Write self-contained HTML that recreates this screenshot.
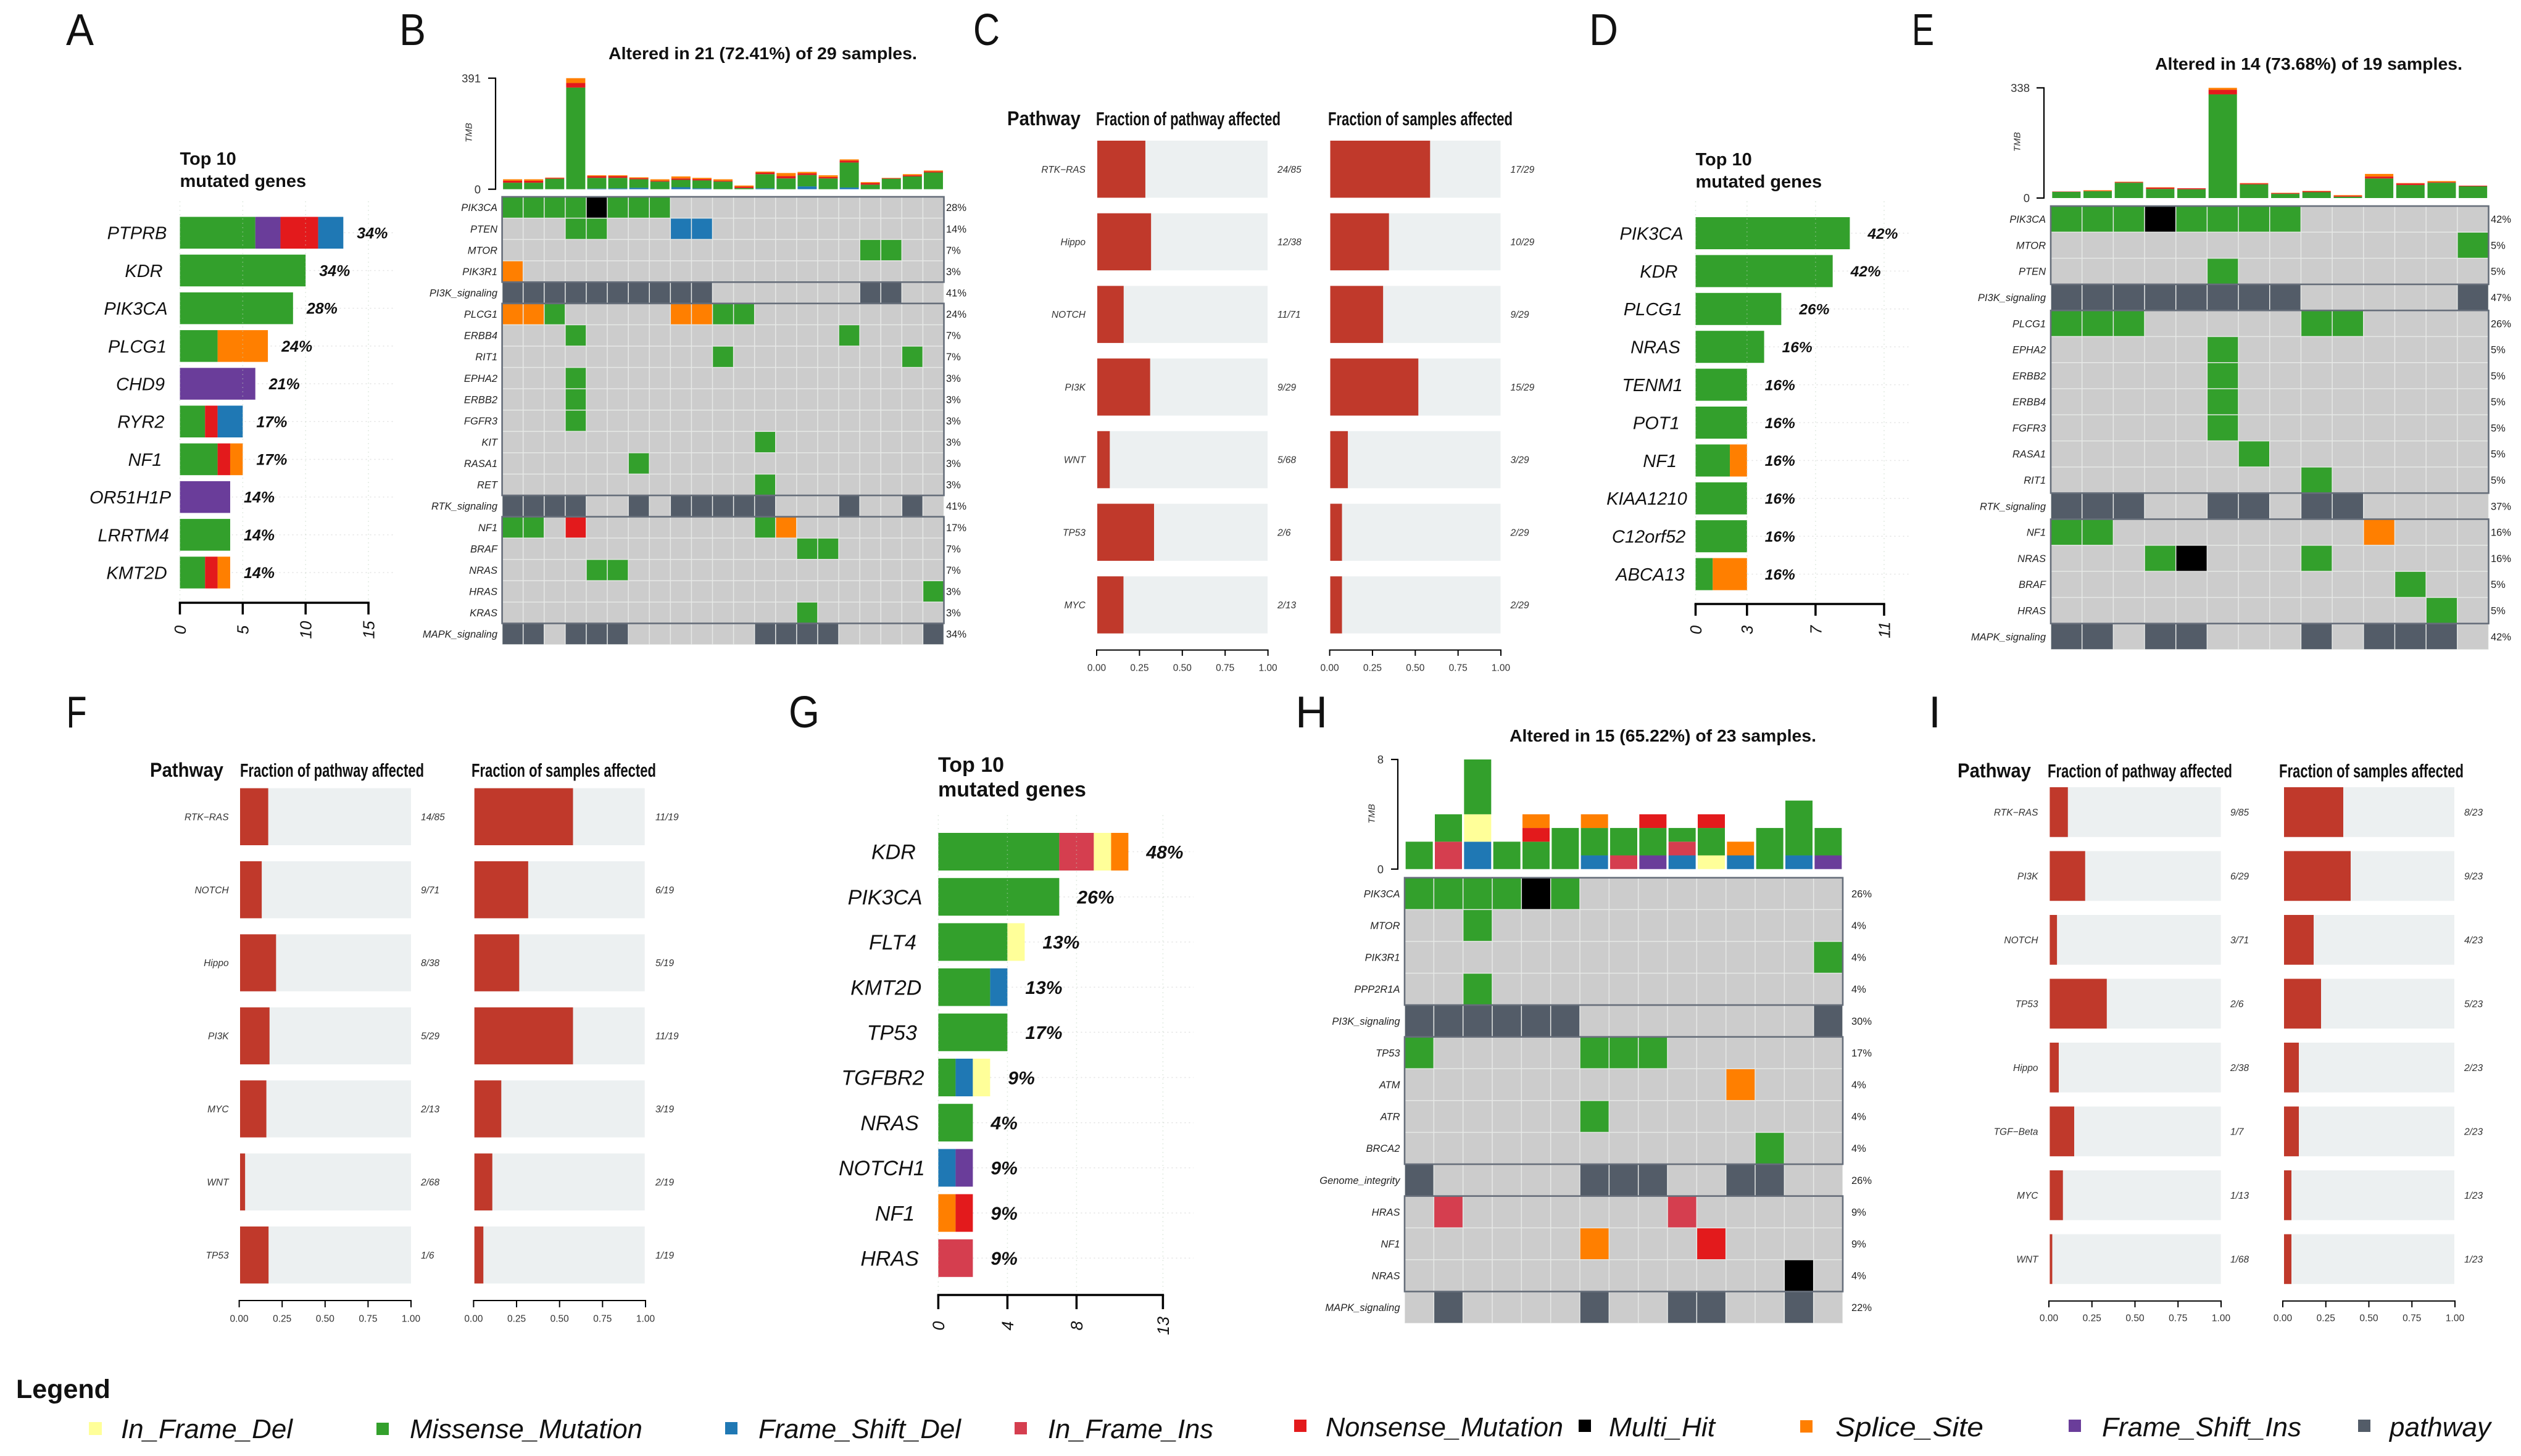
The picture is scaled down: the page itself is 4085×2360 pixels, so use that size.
<!DOCTYPE html>
<html lang="en">
<head>
<meta charset="utf-8">
<title>Mutation landscape figure</title>
<style>
html,body{margin:0;padding:0;background:#fff;}
body{width:4085px;height:2360px;overflow:hidden;}
svg{display:block;}
text{font-family:"Liberation Sans",sans-serif;fill:#111;}
.letter{font-size:72px;}
.toptitle{font-size:29px;font-weight:bold;}
.alt{font-size:28px;font-weight:bold;}
.phead{font-size:32px;font-weight:bold;}
.fhead{font-size:31px;font-weight:bold;}
.leg{font-size:44px;font-style:italic;}
</style>
</head>
<body>
<svg id="figure" width="4085" height="2360" viewBox="0 0 4085 2360" xmlns="http://www.w3.org/2000/svg">
  <rect x="0" y="0" width="4085" height="2360" fill="#ffffff"/>

  <text class="letter" x="107" y="73" textLength="45" lengthAdjust="spacingAndGlyphs">A</text>
  <text class="letter" x="647" y="73" textLength="43" lengthAdjust="spacingAndGlyphs">B</text>
  <text class="letter" x="1577" y="73" textLength="43" lengthAdjust="spacingAndGlyphs">C</text>
  <text class="letter" x="2575" y="73" textLength="47" lengthAdjust="spacingAndGlyphs">D</text>
  <text class="letter" x="3098" y="73" textLength="36" lengthAdjust="spacingAndGlyphs">E</text>
  <text class="letter" x="107.5" y="1179" textLength="33" lengthAdjust="spacingAndGlyphs">F</text>
  <text class="letter" x="1278" y="1179" textLength="50" lengthAdjust="spacingAndGlyphs">G</text>
  <text class="letter" x="2099" y="1179">H</text>
  <text class="letter" x="3125" y="1179">I</text>

  <text class="toptitle" x="291.5" y="267">Top 10</text>
  <text class="toptitle" x="291.5" y="303">mutated genes</text>
  <text class="toptitle" x="2747.5" y="268">Top 10</text>
  <text class="toptitle" x="2747.5" y="304">mutated genes</text>
  <text class="toptitle" style="font-size:34px" x="1520" y="1251">Top 10</text>
  <text class="toptitle" style="font-size:34px" x="1520" y="1291">mutated genes</text>

  <text class="alt" x="986" y="96" textLength="500" lengthAdjust="spacingAndGlyphs">Altered in 21 (72.41%) of 29 samples.</text>
  <text class="alt" x="3492" y="113" textLength="498" lengthAdjust="spacingAndGlyphs">Altered in 14 (73.68%) of 19 samples.</text>
  <text class="alt" x="2446" y="1202" textLength="497" lengthAdjust="spacingAndGlyphs">Altered in 15 (65.22%) of 23 samples.</text>

  <text class="phead" x="1632" y="203" textLength="119" lengthAdjust="spacingAndGlyphs">Pathway</text>
  <text class="fhead" x="1776" y="203" textLength="299" lengthAdjust="spacingAndGlyphs">Fraction of pathway affected</text>
  <text class="fhead" x="2152" y="203" textLength="299" lengthAdjust="spacingAndGlyphs">Fraction of samples affected</text>

  <text class="phead" x="243" y="1259" textLength="119" lengthAdjust="spacingAndGlyphs">Pathway</text>
  <text class="fhead" x="389" y="1259" textLength="298" lengthAdjust="spacingAndGlyphs">Fraction of pathway affected</text>
  <text class="fhead" x="764" y="1259" textLength="299" lengthAdjust="spacingAndGlyphs">Fraction of samples affected</text>

  <text class="phead" x="3172" y="1260" textLength="119" lengthAdjust="spacingAndGlyphs">Pathway</text>
  <text class="fhead" x="3318" y="1260" textLength="299" lengthAdjust="spacingAndGlyphs">Fraction of pathway affected</text>
  <text class="fhead" x="3693" y="1260" textLength="299" lengthAdjust="spacingAndGlyphs">Fraction of samples affected</text>

  <g>
    <text x="26" y="2266" style="font-size:43px;font-weight:bold">Legend</text>
    <rect x="144" y="2305" width="21" height="21" fill="#ffff99"/>
    <text class="leg" x="196" y="2331" textLength="278" lengthAdjust="spacingAndGlyphs">In_Frame_Del</text>
    <rect x="610" y="2306" width="20" height="20" fill="#33a02c"/>
    <text class="leg" x="664" y="2331" textLength="377" lengthAdjust="spacingAndGlyphs">Missense_Mutation</text>
    <rect x="1175" y="2305" width="20" height="20" fill="#1f78b4"/>
    <text class="leg" x="1229" y="2331" textLength="328" lengthAdjust="spacingAndGlyphs">Frame_Shift_Del</text>
    <rect x="1644" y="2305" width="20" height="20" fill="#d53e4f"/>
    <text class="leg" x="1698" y="2331" textLength="268" lengthAdjust="spacingAndGlyphs">In_Frame_Ins</text>
    <rect x="2097" y="2301" width="20" height="20" fill="#e31a1c"/>
    <text class="leg" x="2148" y="2328" textLength="385" lengthAdjust="spacingAndGlyphs">Nonsense_Mutation</text>
    <rect x="2558" y="2301" width="20" height="20" fill="#000000"/>
    <text class="leg" x="2607" y="2328" textLength="172" lengthAdjust="spacingAndGlyphs">Multi_Hit</text>
    <rect x="2917" y="2302" width="20" height="20" fill="#ff7f00"/>
    <text class="leg" x="2974" y="2328" textLength="240" lengthAdjust="spacingAndGlyphs">Splice_Site</text>
    <rect x="3352" y="2301" width="20" height="20" fill="#6a3d9a"/>
    <text class="leg" x="3406" y="2328" textLength="323" lengthAdjust="spacingAndGlyphs">Frame_Shift_Ins</text>
    <rect x="3821" y="2301" width="20" height="20" fill="#535c68"/>
    <text class="leg" x="3872" y="2328" textLength="164" lengthAdjust="spacingAndGlyphs">pathway</text>
  </g>
</svg>

<script>
/* ---------- Panel A data ---------- */
const aGenes = ["PTPRB","KDR","PIK3CA","PLCG1","CHD9","RYR2","NF1","OR51H1P","LRRTM4","KMT2D"];
const aPct = [34,34,28,24,21,17,17,14,14,14];
const aMissense = [6,10,9,3,0,2,3,0,4,2];
const aFsIns = [2,0,0,0,6,0,0,4,0,0];
const aNonsense = [3,0,0,0,0,1,1,0,0,1];
const aFsDel = [2,0,0,0,0,2,0,0,0,0];
const aSplice = [0,0,0,4,0,0,1,0,0,1];
const aTicks = [0,5,10,15];

/* ---------- Panel D data ---------- */
const dGenes = ["PIK3CA","KDR","PLCG1","NRAS","TENM1","POT1","NF1","KIAA1210","C12orf52","ABCA13"];
const dPct = [42,42,26,16,16,16,16,16,16,16];
const dMissense = [9,8,5,4,3,3,2,3,3,1];
const dSplice = [0,0,0,0,0,0,1,0,0,2];
const dTicks = [0,3,7,11];

/* ---------- Panel G data ---------- */
const gGenes = ["KDR","PIK3CA","FLT4","KMT2D","TP53","TGFBR2","NRAS","NOTCH1","NF1","HRAS"];
const gPct = [48,26,13,13,17,9,4,9,9,9];
const gMissense = [7,7,4,3,4,1,2,0,0,0];
const gFsDel = [0,0,0,1,0,1,0,1,0,0];
const gFsIns = [0,0,0,0,0,0,0,1,0,0];
const gIfIns = [2,0,0,0,0,0,0,0,0,2];
const gIfDel = [1,0,1,0,0,1,0,0,0,0];
const gSplice = [1,0,0,0,0,0,0,0,1,0];
const gNonsense = [0,0,0,0,0,0,0,0,1,0];
const gTicks = [0,4,8,13];

/* ---------- Panel B data ---------- */
const bGenes = ["PIK3CA","PTEN","MTOR","PIK3R1","PI3K_signaling","PLCG1","ERBB4","RIT1","EPHA2","ERBB2","FGFR3","KIT","RASA1","RET","RTK_signaling","NF1","BRAF","NRAS","HRAS","KRAS","MAPK_signaling"];
const bPct = [28,14,7,3,41,24,7,7,3,3,3,3,3,3,41,17,7,7,3,3,34];
const bMatrix = [
"MMMMXMMM.............",
"...MM...DD...........",
".................MM..",
"S....................",
"PPPPPPPPPP.......PP..",
"SSM.....SSMM.........",
"...M............M....",
"..........M........M.",
"...M.................",
"...M.................",
"...M.................",
"............M........",
"......M..............",
"............M........",
"PPPP..P.PPPPP...P..P.",
"MM.N........MS.......",
"..............MM.....",
"....MM...............",
"....................M",
"..............M......",
"PP.PPP......PPPP....P"];
const bFsDel = [0,0,0,0,2,3,5,0,7,3,0,0,3,0,10,0,6,0,0,0,0];
const bMissense = [23,23,37,358,38,37,30,27,26,28,27,4,50,38,40,38,88,16,37,45,59];
const bNonsense = [7,7,3,16,6,6,4,3,5,5,3,5,6,8,6,5,7,6,2,4,4];
const bSplice = [5,5,1,17,3,3,3,5,7,4,5,4,3,11,5,6,4,3,1,4,3];
const bTmbTicks = [0,391];

/* ---------- Panel E data ---------- */
const eGenes = ["PIK3CA","MTOR","PTEN","PI3K_signaling","PLCG1","EPHA2","ERBB2","ERBB4","FGFR3","RASA1","RIT1","RTK_signaling","NF1","NRAS","BRAF","HRAS","MAPK_signaling"];
const ePct = [42,5,5,47,26,5,5,5,5,5,5,37,16,16,5,5,42];
const eMatrix = [
"MMMXMMMM......",
".............M",
".....M........",
"PPPPPPPP.....P",
"MMM.....MM....",
".....M........",
".....M........",
".....M........",
".....M........",
"......M.......",
"........M.....",
"PPP..PP.PP....",
"MM........S...",
"...MX...M.....",
"...........M..",
"............M.",
"PP.PP...P.PPP."];
const eMissense = [19,21,47,28,27,318,42,13,18,4,60,40,47,36];
const eNonsense = [1,1,2,4,3,14,3,2,3,3,6,5,2,2];
const eSplice = [0,2,1,1,0,6,1,1,1,2,8,1,3,0];
const eTmbTicks = [0,338];

/* ---------- Panel H data ---------- */
const hGenes = ["PIK3CA","MTOR","PIK3R1","PPP2R1A","PI3K_signaling","TP53","ATM","ATR","BRCA2","Genome_integrity","HRAS","NF1","NRAS","MAPK_signaling"];
const hPct = [26,4,4,4,30,17,4,4,4,26,9,9,4,22];
const hMatrix = [
"MMMMXM.........",
"..M............",
"..............M",
"..M............",
"PPPPPP........P",
"M.....MMM......",
"...........S...",
"......M........",
"............M..",
"P.....PPP..PP..",
".K.......K.....",
"......S...N....",
".............X.",
".P....P..PP..P."];
const hFsDel = [0,0,2,0,0,0,1,0,0,1,0,1,0,1,0];
const hFsIns = [0,0,0,0,0,0,0,0,1,0,0,0,0,0,1];
const hIfDel = [0,0,2,0,0,0,0,0,0,0,1,0,0,0,0];
const hIfIns = [0,2,0,0,0,0,0,1,0,1,0,0,0,0,0];
const hMissense = [2,2,4,2,2,3,2,2,2,1,2,0,3,4,2];
const hNonsense = [0,0,0,0,1,0,0,0,1,0,1,0,0,0,0];
const hSplice = [0,0,0,0,1,0,1,0,0,0,0,1,0,0,0];
const hTmbTicks = [0,8];

/* ---------- Panel C data ---------- */
const cPathways = ["RTK\u2212RAS","Hippo","NOTCH","PI3K","WNT","TP53","MYC"];
const cPathAffected = [24,12,11,9,5,2,2];
const cPathTotal = [85,38,71,29,68,6,13];
const cSamplesAffected = [17,10,9,15,3,2,2];
const cSamplesTotal = [29,29,29,29,29,29,29];

/* ---------- Panel F data ---------- */
const fPathways = ["RTK\u2212RAS","NOTCH","Hippo","PI3K","MYC","WNT","TP53"];
const fPathAffected = [14,9,8,5,2,2,1];
const fPathTotal = [85,71,38,29,13,68,6];
const fSamplesAffected = [11,6,5,11,3,2,1];
const fSamplesTotal = [19,19,19,19,19,19,19];

/* ---------- Panel I data ---------- */
const iPathways = ["RTK\u2212RAS","PI3K","NOTCH","TP53","Hippo","TGF\u2212Beta","MYC","WNT"];
const iPathAffected = [9,6,3,2,2,1,1,1];
const iPathTotal = [85,29,71,6,38,7,13,68];
const iSamplesAffected = [8,9,4,5,2,2,1,1];
const iSamplesTotal = [23,23,23,23,23,23,23,23];

const fractionTicks = [0,0.25,0.5,0.75,1];

/* ---------- Styling and drawing ---------- */
const NS = "http://www.w3.org/2000/svg";
const figure = document.getElementById("figure");
const COLORS = {
  M:"#33a02c", N:"#e31a1c", S:"#ff7f00", D:"#1f78b4", I:"#6a3d9a",
  K:"#d53e4f", Y:"#ffff99", X:"#000000", P:"#535c68", ".":"#cccccc"
};

function addGroup(name){
  const el = document.createElementNS(NS,"g");
  
  
  figure.appendChild(el);
  return el;
}
function addRect(parent,x,y,w,h,fill,name){
  const el = document.createElementNS(NS,"rect");
  
  
  el.setAttribute("x",x);
  el.setAttribute("y",y);
  el.setAttribute("width",Math.max(w,0));
  el.setAttribute("height",Math.max(h,0));
  el.setAttribute("fill",fill);
  parent.appendChild(el);
  return el;
}
function addLine(parent,x1,y1,x2,y2,stroke,width,name,dash){
  const el = document.createElementNS(NS,"line");
  
  
  el.setAttribute("x1",x1);
  el.setAttribute("y1",y1);
  el.setAttribute("x2",x2);
  el.setAttribute("y2",y2);
  el.setAttribute("stroke",stroke);
  el.setAttribute("stroke-width",width);
  if(dash) el.setAttribute("stroke-dasharray",dash);
  parent.appendChild(el);
  return el;
}
function addText(parent,str,x,y,size,opts,name){
  const o = opts || {};
  const el = document.createElementNS(NS,"text");
  
  
  el.textContent = str;
  el.setAttribute("font-size",size);
  el.setAttribute("text-anchor",o.anchor || "start");
  if(o.italic) el.setAttribute("font-style","italic");
  if(o.bold) el.setAttribute("font-weight","bold");
  if(o.fill) el.style.fill = o.fill;
  if(o.rotate){
    el.setAttribute("transform","translate("+x+","+y+") rotate("+o.rotate+")");
    el.setAttribute("x",0);
    el.setAttribute("y",size*0.36);
  } else {
    el.setAttribute("x",x);
    el.setAttribute("y",y+size*0.36);
  }
  parent.appendChild(el);
  return el;
}
function linearScale(origin,pxPerUnit){
  return function(v){ return origin + v*pxPerUnit; };
}

function drawTopGenes(c){
  const g = addGroup(c.id + "-top-genes-barplot");
  const xOf = linearScale(c.x0,c.unit);
  c.genes.forEach(function(gene,i){
    const top = c.top + i*c.pitch;
    const mid = top + c.barH/2;
    addLine(g,c.x0,mid,c.gridRight,mid,"#e2e2e2",1.5,c.id+"-gridline-y-"+gene,"2 5");
    let acc = 0;
    c.layers.forEach(function(layer){
      const v = layer.values[i];
      if(v>0){
        addRect(g,xOf(acc),top,xOf(acc+v)-xOf(acc),c.barH,COLORS[layer.type],c.id+"-bar-"+gene+"-"+layer.type);
        acc += v;
      }
    });
    const lab = addText(g,gene,0,mid,c.geneSize,{italic:true},c.id+"-gene-label-"+gene);
    lab.setAttribute("x",c.labelPivot-(1-c.labelLean)*lab.getComputedTextLength());
    addText(g,c.pct[i]+"%",xOf(acc)+c.pctGap,mid,c.pctSize,{italic:true,bold:true},c.id+"-percent-label-"+gene);
  });
  c.ticks.forEach(function(t){
    addLine(g,xOf(t),c.gridTop,xOf(t),c.axisY,"rgba(190,210,190,0.45)",1.5,c.id+"-gridline-x-"+t,"2 5");
  });
  addLine(g,xOf(c.ticks[0])-1.75,c.axisY,xOf(c.ticks[c.ticks.length-1])+1.75,c.axisY,"#000",3.5,c.id+"-x-axis-line");
  c.ticks.forEach(function(t){
    addLine(g,xOf(t),c.axisY,xOf(t),c.tickEnd,"#000",3.5,c.id+"-x-tick-"+t);
    addText(g,String(t),xOf(t),c.tickLabelY,c.tickSize,{anchor:"middle",italic:true,rotate:-90},c.id+"-x-tick-label-"+t);
  });
}

function drawOncoplot(c){
  const g = addGroup(c.id + "-oncoplot");
  const nCols = c.matrix[0].length;
  const nRows = c.genes.length;
  const colW = (c.gridRight-c.gridLeft)/nCols;
  const rowH = (c.gridBottom-c.gridTop)/nRows;
  const yOf = linearScale(c.tmbBase,(c.tmbTop-c.tmbBase)/c.tmbTicks[1]);

  for(let col=0; col<nCols; col++){
    let acc = 0;
    c.tmbLayers.forEach(function(layer){
      const v = layer.values[col];
      if(v>0){
        const x = c.gridLeft + col*colW + (colW-c.tmbBarW)/2;
        addRect(g,x,yOf(acc+v),c.tmbBarW,yOf(acc)-yOf(acc+v),COLORS[layer.type],c.id+"-tmb-bar-"+col+"-"+layer.type);
        acc += v;
      }
    });
  }
  addLine(g,c.axisX,c.tmbTop,c.axisX,c.tmbBase,"#000",2.2,c.id+"-tmb-axis-line");
  c.tmbTicks.forEach(function(t){
    addLine(g,c.axisX-c.tickLen,yOf(t),c.axisX+1,yOf(t),"#000",2.2,c.id+"-tmb-tick-"+t);
    addText(g,String(t),c.axisLabelRight,yOf(t),18.5,{anchor:"end",fill:"#333"},c.id+"-tmb-tick-label-"+t);
  });
  addText(g,"TMB",c.tmbLabelX,c.tmbLabelY,15,{anchor:"middle",italic:true,rotate:-90,fill:"#333"},c.id+"-tmb-axis-title");

  addRect(g,c.gridLeft,c.gridTop,c.gridRight-c.gridLeft,c.gridBottom-c.gridTop,"#e6e8e6",c.id+"-grid-underlay");
  c.matrix.forEach(function(row,r){
    const y = c.gridTop + r*rowH;
    for(let col=0; col<nCols; col++){
      const code = row[col];
      addRect(g,c.gridLeft+col*colW+0.75,y+0.75,colW-1.5,rowH-1.5,COLORS[code],c.id+"-cell-"+c.genes[r]+"-"+col);
    }
    addText(g,c.genes[r],c.labelRight,y+rowH/2,16.5,{anchor:"end",italic:true,fill:"#222"},c.id+"-row-label-"+c.genes[r]);
    addText(g,c.pct[r]+"%",c.pctX,y+rowH/2,16.5,{fill:"#222"},c.id+"-row-percent-"+c.genes[r]);
  });

  let start = 0;
  c.genes.forEach(function(gene,r){
    const isPathway = /_(signaling|integrity)$/.test(gene);
    if(isPathway){
      if(r>start){
        const box = addRect(g,c.gridLeft,c.gridTop+start*rowH,c.gridRight-c.gridLeft,(r-start)*rowH,"none",c.id+"-pathway-box-"+gene);
        box.setAttribute("stroke","#666e7a");
        box.setAttribute("stroke-width","2.6");
      }
      start = r+1;
    }
  });
}

function drawPathwayPanel(c){
  const g = addGroup(c.id + "-pathway-fractions");
  function column(left,right,affected,total,textX,axisLeft,axisRight,key){
    const xOf = linearScale(left,right-left);
    c.pathways.forEach(function(p,i){
      const top = c.top + i*c.pitch;
      addRect(g,left,top,right-left,c.rowH,"#ecf0f1",c.id+"-"+key+"-track-"+p);
      addRect(g,left,top,xOf(affected[i]/total[i])-left,c.rowH,"#c0392b",c.id+"-"+key+"-bar-"+p);
      addText(g,affected[i]+"/"+total[i],textX,top+c.rowH/2,15.5,{italic:true,fill:"#333"},c.id+"-"+key+"-count-"+p);
    });
    const axisOf = linearScale(axisLeft,axisRight-axisLeft);
    addLine(g,axisLeft-1,c.axisY,axisRight+1,c.axisY,"#000",2,c.id+"-"+key+"-axis-line");
    fractionTicks.forEach(function(t){
      addLine(g,axisOf(t),c.axisY,axisOf(t),c.tickEnd,"#000",2,c.id+"-"+key+"-tick-"+t);
      addText(g,t.toFixed(2),axisOf(t),c.tickLabelY,15.5,{anchor:"middle",fill:"#333"},c.id+"-"+key+"-tick-label-"+t);
    });
  }
  c.pathways.forEach(function(p,i){
    addText(g,p,c.nameRight,c.top+i*c.pitch+c.rowH/2,15.5,{anchor:"end",italic:true,fill:"#333"},c.id+"-pathway-label-"+p);
  });
  column(c.l1,c.r1,c.pathAffected,c.pathTotal,c.text1,c.a1l,c.a1r,"pathway");
  column(c.l2,c.r2,c.samplesAffected,c.samplesTotal,c.text2,c.a2l,c.a2r,"samples");
}

drawTopGenes({id:"panel-a",genes:aGenes,pct:aPct,ticks:aTicks,
  layers:[{type:"M",values:aMissense},{type:"I",values:aFsIns},{type:"N",values:aNonsense},{type:"D",values:aFsDel},{type:"S",values:aSplice}],
  x0:291.5,unit:20.37,top:351.5,barH:51.5,pitch:61.2,axisY:977,tickEnd:996,tickLabelY:1021,
  labelPivot:252,labelLean:0.19,geneSize:29,pctSize:25,pctGap:22,gridTop:326,gridRight:637,tickSize:26});

drawTopGenes({id:"panel-d",genes:dGenes,pct:dPct,ticks:dTicks,
  layers:[{type:"M",values:dMissense},{type:"S",values:dSplice}],
  x0:2747.5,unit:27.77,top:352,barH:52,pitch:61.4,axisY:979,tickEnd:998,tickLabelY:1021,
  labelPivot:2705,labelLean:0.22,geneSize:29,pctSize:24.5,pctGap:29,gridTop:326,gridRight:3096,tickSize:26});

drawTopGenes({id:"panel-g",genes:gGenes,pct:gPct,ticks:gTicks,
  layers:[{type:"M",values:gMissense},{type:"D",values:gFsDel},{type:"I",values:gFsIns},{type:"K",values:gIfIns},{type:"Y",values:gIfDel},{type:"S",values:gSplice},{type:"N",values:gNonsense}],
  x0:1520.4,unit:28,top:1350,barH:61,pitch:73.2,axisY:2099,tickEnd:2122,tickLabelY:2149,
  labelPivot:1468,labelLean:0.22,geneSize:34,pctSize:30,pctGap:29,gridTop:1321,gridRight:1934,tickSize:27});

drawOncoplot({id:"panel-b",genes:bGenes,pct:bPct,matrix:bMatrix,tmbTicks:bTmbTicks,
  tmbLayers:[{type:"D",values:bFsDel},{type:"M",values:bMissense},{type:"N",values:bNonsense},{type:"S",values:bSplice}],
  gridLeft:813.6,gridRight:1529.5,gridTop:319,gridBottom:1045,tmbBase:306.7,tmbTop:126.7,tmbBarW:31,
  axisX:803,tickLen:12,axisLabelRight:779,tmbLabelX:759,tmbLabelY:215,labelRight:806,pctX:1533});

drawOncoplot({id:"panel-e",genes:eGenes,pct:ePct,matrix:eMatrix,tmbTicks:eTmbTicks,
  tmbLayers:[{type:"M",values:eMissense},{type:"N",values:eNonsense},{type:"S",values:eSplice}],
  gridLeft:3323,gridRight:4032.5,gridTop:334,gridBottom:1053,tmbBase:321,tmbTop:142.4,tmbBarW:46,
  axisX:3312,tickLen:12,axisLabelRight:3289,tmbLabelX:3268,tmbLabelY:230,labelRight:3315,pctX:4036});

drawOncoplot({id:"panel-h",genes:hGenes,pct:hPct,matrix:hMatrix,tmbTicks:hTmbTicks,
  tmbLayers:[{type:"D",values:hFsDel},{type:"I",values:hFsIns},{type:"Y",values:hIfDel},{type:"K",values:hIfIns},{type:"M",values:hMissense},{type:"N",values:hNonsense},{type:"S",values:hSplice}],
  gridLeft:2276,gridRight:2986,gridTop:1422.7,gridBottom:2145,tmbBase:1408.7,tmbTop:1231,tmbBarW:44,
  axisX:2265,tickLen:11,axisLabelRight:2242,tmbLabelX:2222,tmbLabelY:1319,labelRight:2268.5,pctX:3000});

drawPathwayPanel({id:"panel-c",pathways:cPathways,pathAffected:cPathAffected,pathTotal:cPathTotal,samplesAffected:cSamplesAffected,samplesTotal:cSamplesTotal,
  top:228,rowH:92.5,pitch:117.7,nameRight:1759,l1:1778,r1:2054,l2:2155.5,r2:2431.5,text1:2070,text2:2447.5,
  a1l:1777,a1r:2054.6,a2l:2154.6,a2r:2432,axisY:1053.6,tickEnd:1063,tickLabelY:1082});

drawPathwayPanel({id:"panel-f",pathways:fPathways,pathAffected:fPathAffected,pathTotal:fPathTotal,samplesAffected:fSamplesAffected,samplesTotal:fSamplesTotal,
  top:1277.6,rowH:92.4,pitch:118.4,nameRight:370.6,l1:389,r1:666,l2:768.7,r2:1044.7,text1:682,text2:1062,
  a1l:387.6,a1r:666,a2l:767.4,a2r:1046,axisY:2108,tickEnd:2119,tickLabelY:2137});

drawPathwayPanel({id:"panel-i",pathways:iPathways,pathAffected:iPathAffected,pathTotal:iPathTotal,samplesAffected:iSamplesAffected,samplesTotal:iSamplesTotal,
  top:1276,rowH:80.7,pitch:103.5,nameRight:3302.5,l1:3321.4,r1:3598.6,l2:3701,r2:3977,text1:3614,text2:3993,
  a1l:3320,a1r:3599,a2l:3699,a2r:3978,axisY:2108.8,tickEnd:2119,tickLabelY:2136});
</script>
</body>
</html>
